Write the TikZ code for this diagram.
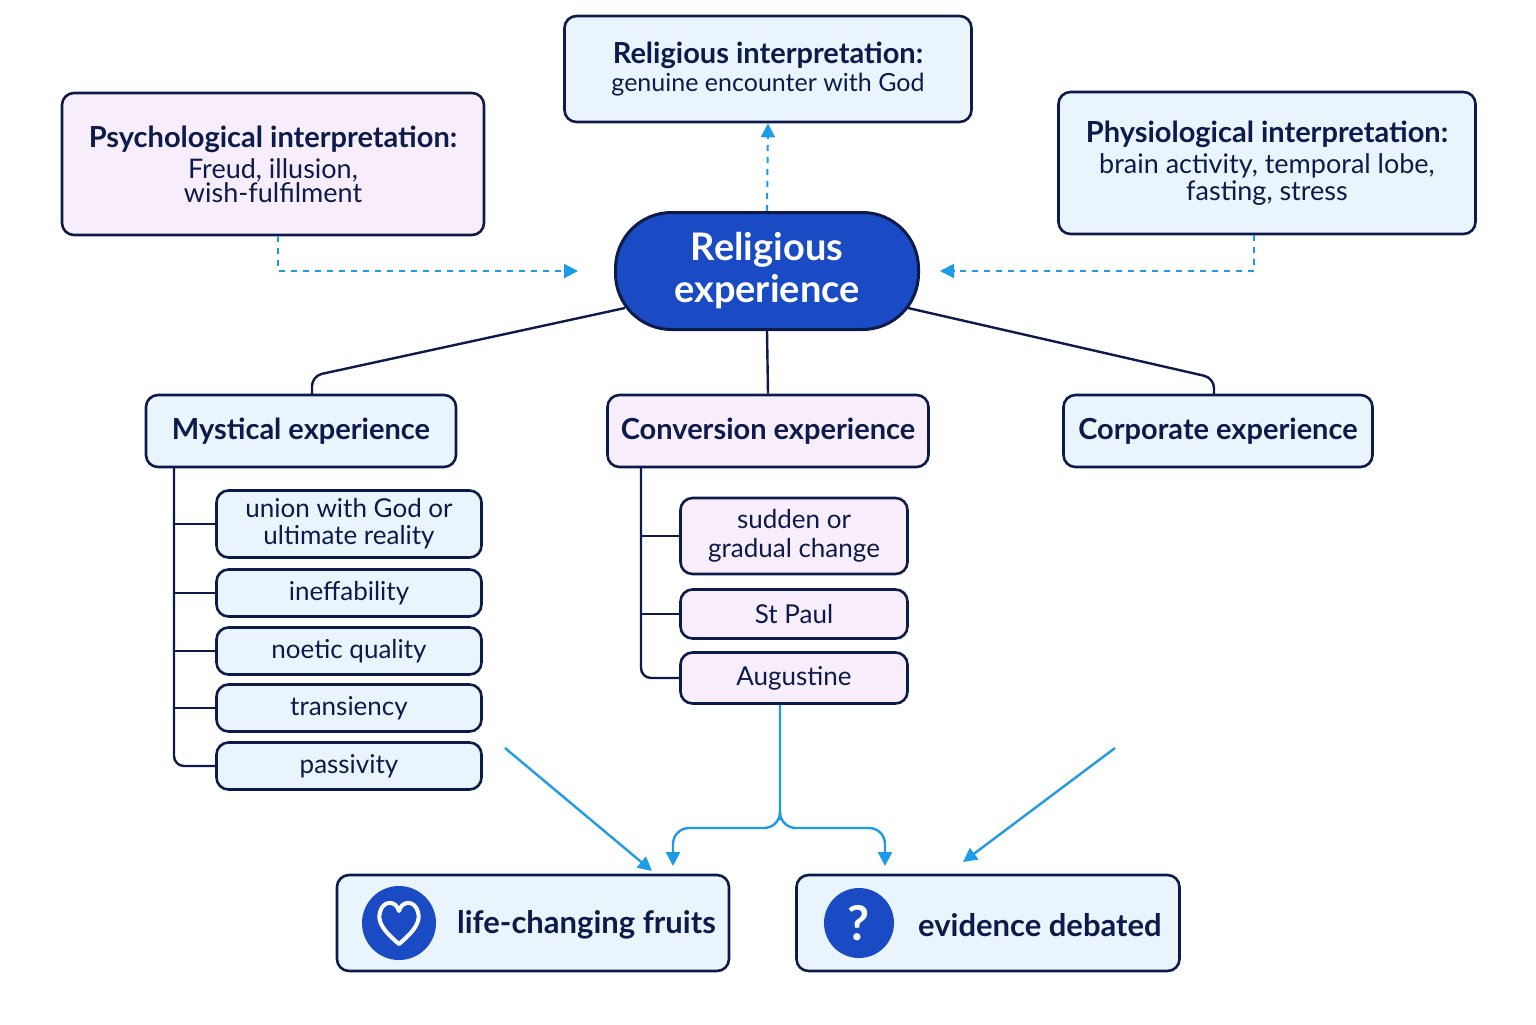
\documentclass[tikz,border=0pt]{standalone}
\usepackage{fontspec}
\setmainfont{Lato}
\usetikzlibrary{arrows.meta,positioning}
\definecolor{navy}{HTML}{0D1B4B}
\definecolor{skyfill}{HTML}{EAF4FD}
\definecolor{pinkfill}{HTML}{F8EEFB}
\definecolor{royal}{HTML}{1A4BC4}
\definecolor{arrowblue}{HTML}{1E9BE8}
\newcommand\hfont{\fontsize{14.5}{19}\selectfont\bfseries}
\newcommand\bfont{\fontsize{13.5}{18}\selectfont\mdseries}
\begin{document}
\begin{tikzpicture}[x=0.5pt,y=-0.5pt,
    box/.style={draw=navy,line width=1.3pt,rounded corners=6pt,align=center,text=navy,inner sep=2pt},
    blue box/.style={box,fill=skyfill},
    pink box/.style={box,fill=pinkfill},
    head/.style={font=\hfont},
    item/.style={font=\fontsize{13}{14.5}\selectfont,minimum width=132.5pt},
    tree/.style={draw=navy,line width=1.2pt,rounded corners=5pt},
    dashlink/.style={draw=arrowblue,line width=1pt,dashed,-{Triangle[length=7pt,width=7pt]}},
    flow/.style={draw=arrowblue,line width=1.2pt,rounded corners=8pt,-{Triangle[length=7pt,width=7pt]}}]
  \useasboundingbox (0,0) rectangle (1536,1024);

  % interpretations
  \node[blue box,minimum width=203.5pt,minimum height=53pt] (relig) at (768,69)
    {\hfont Religious interpretation:\\[2pt]\fontsize{12.5}{16}\selectfont\mdseries genuine encounter with God};
  \node[pink box,minimum width=211pt,minimum height=71pt] (psych) at (273,164)
    {\hfont Psychological interpretation:\\[2pt]\bfont Freud, illusion,\\\bfont wish-fulfilment};
  \node[blue box,minimum width=208.5pt,minimum height=71pt] (physio) at (1267,163)
    {\hfont Physiological interpretation:\\[2pt]\bfont brain activity, temporal lobe,\\\bfont fasting, stress};

  % centre
  \node[draw=navy,line width=1.5pt,fill=royal,rounded corners=28pt,minimum width=151.5pt,minimum height=58.5pt,
        align=center,text=white,font=\fontsize{19}{21}\selectfont\bfseries] (core) at (767,271) {Religious\\experience};

  % categories
  \node[blue box,head,minimum width=155pt,minimum height=36pt] (myst) at (301,431) {Mystical experience};
  \node[pink box,head,minimum width=160.5pt,minimum height=36pt] (conv) at (768,431) {Conversion experience};
  \node[blue box,head,minimum width=154.5pt,minimum height=36pt] (corp) at (1218,431) {Corporate experience};

  % mystical items
  \node[blue box,item,minimum height=33.5pt] (union) at (349,524) {union with God or\\[-1pt]ultimate reality};
  \node[blue box,item,minimum height=23.5pt] (ineff) at (349,593) {ineffability};
  \node[blue box,item,minimum height=23.5pt] (noetic) at (349,651) {noetic quality};
  \node[blue box,item,minimum height=23.5pt] (trans) at (349,708) {transiency};
  \node[blue box,item,minimum height=23.5pt] (passiv) at (349,766) {passivity};

  % conversion items
  \node[pink box,item,minimum width=113.5pt,minimum height=38pt] (sudden) at (794,536) {sudden or\\[0pt]gradual change};
  \node[pink box,item,minimum width=113.5pt,minimum height=24.5pt] (paul) at (794,614) {St Paul};
  \node[pink box,item,minimum width=113.5pt,minimum height=25.5pt] (aug) at (794,678) {Augustine};

  % outcomes
  \node[blue box,minimum width=196pt,minimum height=48pt] (fruits) at (533,923) {};
  \node[blue box,minimum width=191.5pt,minimum height=48pt] (debate) at (988,923) {};
  \node[circle,fill=royal,minimum size=37pt,inner sep=0pt] (heart) at (399,923) {};
  \node[circle,fill=royal,minimum size=35pt,inner sep=0pt,text=white,font=\fontsize{24}{24}\selectfont\bfseries] (quest) at (859,923) {?};
  \draw[white,line width=2pt,line join=round] (399,944) .. controls (380,928) and (378,920) .. (380,912)
    .. controls (383,900) and (396,900) .. (399,911) .. controls (402,900) and (415,900) .. (418,912)
    .. controls (420,920) and (418,928) .. (399,944) -- cycle;
  \node[anchor=west,text=navy,font=\fontsize{15.5}{18}\selectfont\bfseries] (fruitstext) at (450,925) {life-changing fruits};
  \node[anchor=west,text=navy,font=\fontsize{15.5}{18}\selectfont\bfseries] (debatetext) at (911,925) {evidence debated};

  % dashed links
  \draw[dashlink] (core.north) -- (relig.south);
  \draw[dashlink] (psych.south) ++(5,0) coordinate (pa) -- (pa |- core.west) -- ([xshift=-18]core.west);
  \draw[dashlink] (physio.south) ++(-13,0) coordinate (pb) -- (pb |- core.east) -- ([xshift=10]core.east);

  % branches
  \coordinate (cl) at (625,308);
  \coordinate (cr) at (908,308);
  \draw[tree] (cl) -- (312,376) -- (312,395);
  \draw[tree] (cr) -- (1214,378) -- (1214,395);
  \draw[tree] (core.south) -- (conv.north);
  \draw[tree] (174,467) -- (174,766) -- (passiv.west);
  \foreach \n in {union,ineff,noetic,trans}
    \draw[navy,line width=1.2pt] (174,0 |- \n.west) -- (\n.west);
  \draw[tree] (641,467) -- (641,678) -- (aug.west);
  \foreach \n in {sudden,paul}
    \draw[navy,line width=1.2pt] (641,0 |- \n.west) -- (\n.west);

  % flows to outcomes
  \coordinate (ml) at (505,748);
  \coordinate (mr) at (1115,748);
  \draw[flow] (ml) -- (652,871);
  \draw[flow] (mr) -- (963,862);
  \draw[flow] (aug.south -| 780,0) -- (780,828) -- (673,828) -- (673,866);
  \draw[flow] (780,820) -- (780,828) -- (885,828) -- (885,866);
\end{tikzpicture}
\end{document}
